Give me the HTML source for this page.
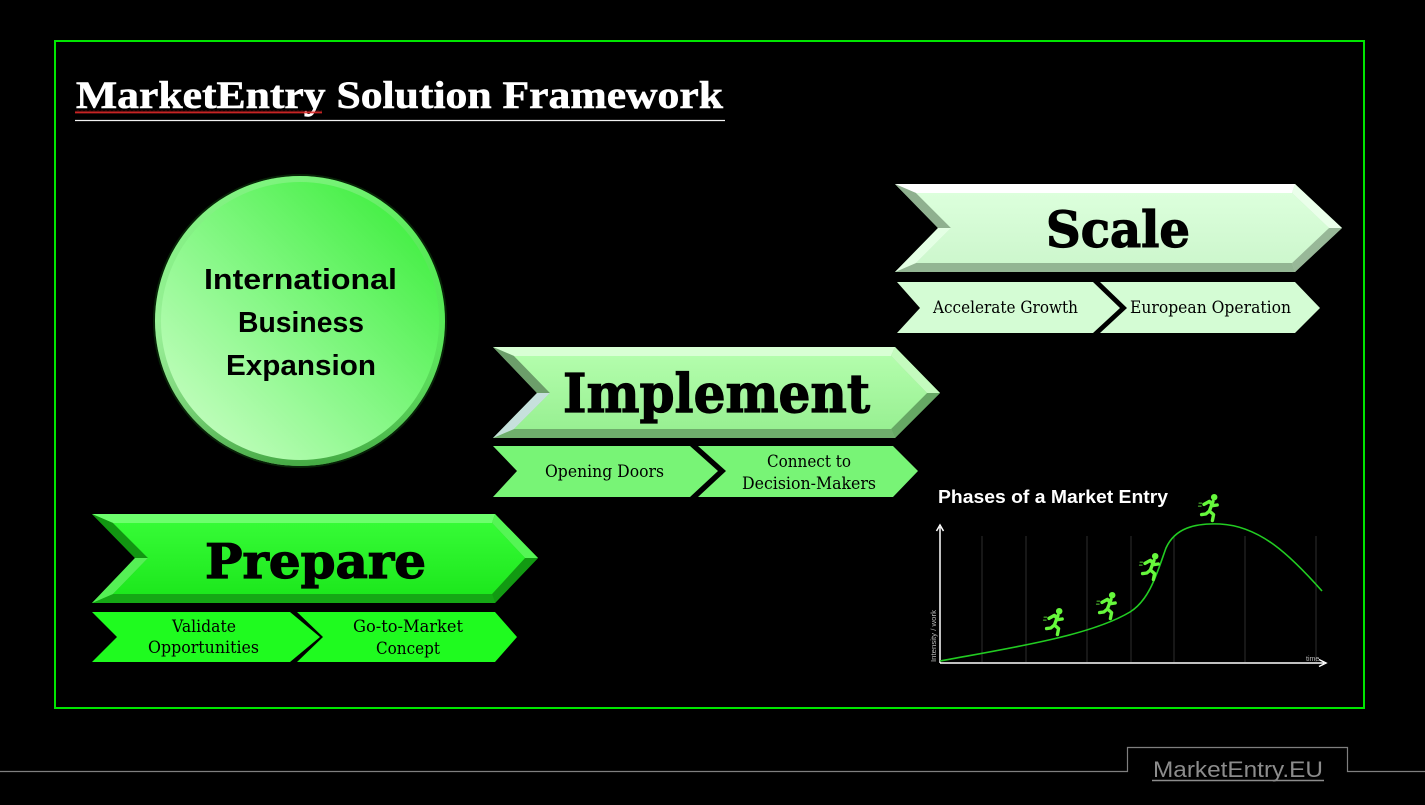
<!DOCTYPE html>
<html>
<head>
<meta charset="utf-8">
<style>
  html,body{margin:0;padding:0;background:#000;}
  svg{display:block;}
</style>
</head>
<body>
<svg width="1425" height="805" viewBox="0 0 1425 805" xmlns="http://www.w3.org/2000/svg">
  <defs>
    <linearGradient id="circG" x1="0" y1="1" x2="1" y2="0">
      <stop offset="0" stop-color="#d6ffd0"/>
      <stop offset="0.45" stop-color="#8af88a"/>
      <stop offset="1" stop-color="#2eec2e"/>
    </linearGradient>
    <linearGradient id="rimG" x1="0" y1="0" x2="0" y2="1">
      <stop offset="0" stop-color="#9cf59c" stop-opacity="0.5"/>
      <stop offset="0.5" stop-color="#55cc55" stop-opacity="0.2"/>
      <stop offset="1" stop-color="#1c8a1c" stop-opacity="0.7"/>
    </linearGradient>
    <linearGradient id="scaleFace" x1="0" y1="0" x2="0" y2="1">
      <stop offset="0" stop-color="#dcffdc"/>
      <stop offset="1" stop-color="#cdf7cd"/>
    </linearGradient>
    <linearGradient id="implFace" x1="0" y1="0" x2="0" y2="1">
      <stop offset="0" stop-color="#b3fdac"/>
      <stop offset="1" stop-color="#98f092"/>
    </linearGradient>
    <linearGradient id="prepFace" x1="0" y1="0" x2="0" y2="1">
      <stop offset="0" stop-color="#36fb36"/>
      <stop offset="1" stop-color="#1de81d"/>
    </linearGradient>
    <pattern id="squig" x="0" y="0" width="4" height="3" patternUnits="userSpaceOnUse">
      <path d="M0,2.5 L1,0.5 L2,2.5 L3,0.5 L4,2.5" fill="none" stroke="#e02828" stroke-width="0.9"/>
    </pattern>
    <g id="runner" fill="none" stroke="#66f83c" stroke-width="2.8" stroke-linecap="round" stroke-linejoin="round" transform="scale(1.2)">
      <circle cx="3.5" cy="-9" r="2.7" fill="#66f83c" stroke="none"/>
      <path d="M2.5,-5.5 L-0.5,2.5"/>
      <path d="M-5,-3 L-0.5,-5.5 L2.5,-2 L6,-2.5"/>
      <path d="M-7,5.5 L-3.5,5 L-0.5,2.5 L3,5.5 L2,10.5"/>
      <path d="M-9,-4 L-7,-4 M-9.5,-1.5 L-7.5,-1.5" stroke-width="1.2" stroke-opacity="0.6"/>
    </g>
  </defs>

  <rect width="1425" height="805" fill="#000"/>

  <!-- Green frame -->
  <rect x="55" y="41" width="1309" height="667" fill="none" stroke="#00e600" stroke-width="2"/>

  <!-- Title -->
  <text x="76" y="108" font-family="'Liberation Serif', serif" font-weight="bold" font-size="39" fill="#ffffff" stroke="#ffffff" stroke-width="0.6" textLength="647" lengthAdjust="spacingAndGlyphs">MarketEntry Solution Framework</text>
  <rect x="75" y="110.5" width="247" height="3" fill="url(#squig)"/>
  <line x1="75" y1="120.5" x2="725" y2="120.5" stroke="#f2f2f2" stroke-width="1.2"/>

  <!-- Circle -->
  <circle cx="300" cy="321" r="147" fill="#0b3a0b" opacity="0.6"/>
  <circle cx="300" cy="321" r="145" fill="url(#circG)"/>
  <circle cx="300" cy="321" r="142" fill="none" stroke="url(#rimG)" stroke-width="6"/>
  <g font-family="'Liberation Sans', sans-serif" font-weight="bold" font-size="29" fill="#000">
    <text x="204" y="289" textLength="193" lengthAdjust="spacingAndGlyphs">International</text>
    <text x="238" y="332" textLength="126" lengthAdjust="spacingAndGlyphs">Business</text>
    <text x="226" y="375" textLength="150" lengthAdjust="spacingAndGlyphs">Expansion</text>
  </g>

  <!-- SCALE main chevron -->
  <g>
    <polygon points="895,184 1295,184 1342,228 1295,272 895,272 938,228" fill="#bfe6bf"/>
    <polygon points="895,184 1295,184 1292,193 916,193" fill="#ffffff"/>
    <polygon points="1295,184 1342,228 1329,228 1292,193" fill="#eaffea"/>
    <polygon points="1342,228 1295,272 1292,263 1329,228" fill="#98b898"/>
    <polygon points="1295,272 895,272 916,263 1292,263" fill="#93b593"/>
    <polygon points="895,272 938,228 951,228 916,263" fill="#e4ffe4"/>
    <polygon points="938,228 895,184 916,193 951,228" fill="#8fb08f"/>
    <polygon points="916,193 1292,193 1329,228 1292,263 916,263 951,228" fill="url(#scaleFace)"/>
    <text x="1046" y="247" font-family="'DejaVu Serif', 'Liberation Serif', serif" font-weight="bold" font-size="50" fill="#000" stroke="#000" stroke-width="1.2" textLength="144" lengthAdjust="spacingAndGlyphs">Scale</text>
  </g>
  <polygon points="897,282 1093,282 1120,308 1093,333 897,333 920,308" fill="#d4fcd4"/>
  <polygon points="1100,282 1295,282 1320,308 1295,333 1100,333 1127,308" fill="#d4fcd4"/>
  <g font-family="'DejaVu Serif', 'Liberation Serif', serif" font-size="17" fill="#000">
    <text x="933" y="313" textLength="145" lengthAdjust="spacingAndGlyphs">Accelerate Growth</text>
    <text x="1130" y="313" textLength="161" lengthAdjust="spacingAndGlyphs">European Operation</text>
  </g>

  <!-- IMPLEMENT main chevron -->
  <g>
    <polygon points="493,347 895,347 940,393 895,438 493,438 537,393" fill="#8fd88a"/>
    <polygon points="493,347 895,347 891,356 514,356" fill="#d8ffd4"/>
    <polygon points="895,347 940,393 927,393 891,356" fill="#c4fbbe"/>
    <polygon points="940,393 895,438 891,429 927,393" fill="#66a864"/>
    <polygon points="895,438 493,438 514,429 891,429" fill="#6fae6c"/>
    <polygon points="493,438 537,393 550,393 514,429" fill="#c6e0dc"/>
    <polygon points="537,393 493,347 514,356 550,393" fill="#6c9e6a"/>
    <polygon points="514,356 891,356 927,393 891,429 514,429 550,393" fill="url(#implFace)"/>
    <text x="563" y="412" font-family="'DejaVu Serif', 'Liberation Serif', serif" font-weight="bold" font-size="53" fill="#000" stroke="#000" stroke-width="1.2" textLength="307" lengthAdjust="spacingAndGlyphs">Implement</text>
  </g>
  <polygon points="493,446 690,446 718,471 690,497 493,497 517,471" fill="#78f476"/>
  <polygon points="698,446 893,446 918,471 893,497 698,497 726,471" fill="#78f476"/>
  <g font-family="'DejaVu Serif', 'Liberation Serif', serif" font-size="17" fill="#000">
    <text x="545" y="477" textLength="119" lengthAdjust="spacingAndGlyphs">Opening Doors</text>
    <text x="767" y="467" textLength="84" lengthAdjust="spacingAndGlyphs">Connect to</text>
    <text x="742" y="489" textLength="134" lengthAdjust="spacingAndGlyphs">Decision-Makers</text>
  </g>

  <!-- PREPARE main chevron -->
  <g>
    <polygon points="92,514 495,514 538,558 495,603 92,603 135,558" fill="#18c018"/>
    <polygon points="92,514 495,514 492,523 113,523" fill="#6dff6d"/>
    <polygon points="495,514 538,558 525,558 492,523" fill="#55f555"/>
    <polygon points="538,558 495,603 492,594 525,558" fill="#129a12"/>
    <polygon points="495,603 92,603 113,594 492,594" fill="#15a815"/>
    <polygon points="92,603 135,558 148,558 113,594" fill="#55f055"/>
    <polygon points="135,558 92,514 113,523 148,558" fill="#129612"/>
    <polygon points="113,523 492,523 525,558 492,594 113,594 148,558" fill="url(#prepFace)"/>
    <text x="205" y="578" font-family="'DejaVu Serif', 'Liberation Serif', serif" font-weight="bold" font-size="48" fill="#000" stroke="#000" stroke-width="1.2" textLength="221" lengthAdjust="spacingAndGlyphs">Prepare</text>
  </g>
  <polygon points="92,612 290,612 320,637 290,662 92,662 117,637" fill="#1ffb1f"/>
  <polygon points="297,612 495,612 517,637 495,662 297,662 323,637" fill="#1ffb1f"/>
  <g font-family="'DejaVu Serif', 'Liberation Serif', serif" font-size="17" fill="#000">
    <text x="172" y="632" textLength="64" lengthAdjust="spacingAndGlyphs">Validate</text>
    <text x="148" y="653" textLength="111" lengthAdjust="spacingAndGlyphs">Opportunities</text>
    <text x="353" y="632" textLength="110" lengthAdjust="spacingAndGlyphs">Go-to-Market</text>
    <text x="376" y="654" textLength="64" lengthAdjust="spacingAndGlyphs">Concept</text>
  </g>

  <!-- Chart -->
  <text x="938" y="503" font-family="'Liberation Sans', sans-serif" font-weight="bold" font-size="18" fill="#ffffff" textLength="230" lengthAdjust="spacingAndGlyphs">Phases of a Market Entry</text>
  <g stroke="#2e2e2e" stroke-width="1">
    <line x1="982" y1="536" x2="982" y2="662"/>
    <line x1="1026" y1="536" x2="1026" y2="662"/>
    <line x1="1087" y1="536" x2="1087" y2="662"/>
    <line x1="1131" y1="536" x2="1131" y2="662"/>
    <line x1="1174" y1="536" x2="1174" y2="662"/>
    <line x1="1245" y1="536" x2="1245" y2="662"/>
    <line x1="1316" y1="536" x2="1316" y2="662"/>
  </g>
  <g stroke="#ffffff" stroke-width="1.5" fill="none">
    <line x1="940" y1="663" x2="940" y2="527"/>
    <polyline points="936.5,531 940,525 943.5,531"/>
    <line x1="940" y1="663" x2="1324" y2="663"/>
    <polyline points="1319,659.5 1326,663 1319,666.5"/>
  </g>
  <path d="M940,661 C1010,648 1090,636 1130,612 C1150,600 1158,570 1166,548 C1175,528 1195,523 1220,524 C1260,526 1290,555 1322,591" fill="none" stroke="#22cc22" stroke-width="1.6"/>
  <text transform="translate(936,662) rotate(-90)" font-family="'Liberation Sans', sans-serif" font-size="7" fill="#bbbbbb" textLength="52" lengthAdjust="spacingAndGlyphs">Intensity / work</text>
  <text x="1306" y="661" font-family="'Liberation Sans', sans-serif" font-size="7" fill="#bbbbbb">time</text>
  <use href="#runner" x="1055" y="622"/>
  <use href="#runner" x="1108" y="606"/>
  <use href="#runner" x="1151" y="567"/>
  <use href="#runner" x="1210" y="508"/>

  <!-- Footer -->
  <path d="M0,771.5 H1127.5 V747.5 H1347.5 V771.5 H1425" fill="none" stroke="#7f7f7f" stroke-width="1.2"/>
  <text x="1153" y="777" font-family="'Liberation Sans', sans-serif" font-size="22" fill="#8c8c8c" textLength="170" lengthAdjust="spacingAndGlyphs">MarketEntry.EU</text>
  <line x1="1152" y1="780.5" x2="1324" y2="780.5" stroke="#8c8c8c" stroke-width="1.4"/>
</svg>
</body>
</html>
